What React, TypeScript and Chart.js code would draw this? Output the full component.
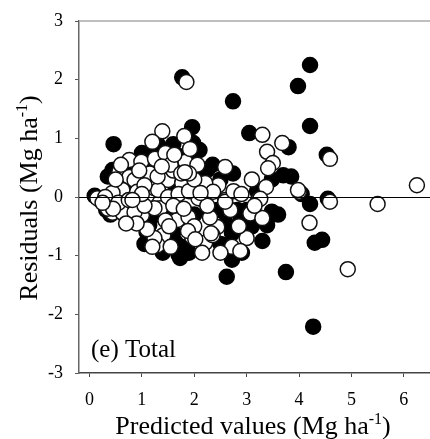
import React, { useEffect, useRef } from "react";
import { Chart, registerables } from "chart.js";

Chart.register(...registerables);

// Filled (black) points: predicted values and residuals
const blackPred = [
  0.1, 0.46, 1.77, 1.96, 1.98, 4.21, 3.98, 2.74, 4.21, 3.05,
  3.8, 4.53, 4.55, 4.21, 4.3, 4.44, 3.75, 4.27, 2.62, 1.73,
  1.7, 2.72, 3.7, 3.48, 2.74, 2.46, 3.0, 3.48, 2.88, 2.82,
  3.39, 2.72, 2.91, 2.27, 2.44, 1.64, 1.45, 2.25, 2.02, 1.0,
  0.44, 0.32, 1.09, 1.14, 1.5, 1.6, 1.7, 1.55, 1.2, 0.9,
  0.7, 0.5, 0.6, 0.8, 1.0, 1.3, 1.6, 1.75, 2.0, 2.1,
  2.3, 2.5, 2.6, 2.5, 1.9, 2.8, 3.1, 3.2, 3.6, 0.55,
  0.35, 0.8, 1.2, 1.15, 1.3, 1.9, 2.1, 2.35, 1.05, 1.4,
  0.2, 0.4, 3.3, 4.05, 3.85, 1.65, 1.55, 1.42,
];
const blackResid = [
  0.02, 0.9, 2.04, 1.19, 0.92, 2.25, 1.89, 1.63, 1.21, 1.09,
  0.85, 0.72, -0.03, -0.12, -0.78, -0.73, -1.28, -2.21, -1.36, -1.04,
  -0.98, -1.07, 0.37, 0.3, 0.4, -0.22, -0.22, -0.25, -0.34, -0.22,
  -0.48, -0.62, -0.95, -0.27, -0.22, -0.77, 0.8, 0.46, 0.34, 0.75,
  0.46, -0.22, -0.6, -0.48, 0.6, 0.9, 0.7, 0.3, 0.25, 0.2,
  0.05, -0.05, -0.25, -0.15, -0.1, -0.3, -0.6, -0.85, -0.3, 0.1,
  0.15, 0.3, -0.45, -0.8, -0.95, -0.55, -0.5, 0.1, -0.3, 0.2,
  0.35, 0.45, 0.55, 0.75, 0.9, 0.7, 0.8, 0.55, -0.8, -0.95,
  -0.05, -0.3, -0.75, 0.05, 0.35, 0.15, -0.2, 0.65,
];

// Open (white) points: predicted values and residuals
const whitePred = [
  0.15, 1.85, 1.81, 1.39, 1.2, 3.3, 3.68, 4.59, 6.25, 5.5, 4.59, 4.0, 4.2, 4.93,
  2.59, 3.39, 3.5, 3.41, 3.37, 2.46, 2.59, 3.22, 2.69, 3.07, 3.3, 3.0, 2.72, 2.88,
  3.26, 1.35, 1.68, 1.89, 2.17, 2.59, 2.44, 1.41, 1.96, 2.21, 2.5, 2.15, 1.3, 0.44,
  0.63, 1.0, 0.86, 1.24, 1.24, 1.2, 0.76, 0.99, 0.57, 0.76, 0.86, 0.63, 0.91, 0.44,
  1.1, 1.24, 1.68, 1.83, 2.06, 1.41, 1.5, 1.77, 2.21, 1.31, 2.08, 2.36, 3.98, 0.3,
  0.55, 0.75, 1.5, 1.7, 1.9, 2.0, 1.6, 1.8, 2.3, 2.0, 1.55, 1.1, 0.9, 1.45, 2.35,
  1.15, 1.05, 0.95, 2.25, 2.75, 2.9, 3.1, 2.85, 3.15, 1.6, 1.25, 0.35, 0.5, 1.45,
  1.9, 2.12, 1.05, 0.7, 1.55, 1.75, 1.3, 1.0, 0.45, 0.25, 0.6, 1.62, 1.92, 0.82,
  1.38, 1.82, 1.52, 1.88, 2.32, 2.02,
];
const whiteResid = [
  -0.02, 1.96, 1.04, 1.12, 0.94, 1.06, 0.92, 0.65, 0.2, -0.12, -0.08, 0.09, -0.44, -1.23,
  0.51, 0.77, 0.58, 0.49, 0.17, 0.2, -0.05, -0.05, -0.22, -0.28, -0.36, -0.7, -0.85, -0.92,
  -0.03, -0.19, -0.39, -0.34, -0.05, -0.08, -0.51, -0.65, -0.68, -0.78, -0.95, -0.95, -0.82, -0.27,
  -0.27, -0.31, -0.26, -0.19, -0.7, -0.85, 0.63, 0.6, 0.43, 0.34, 0.29, 0.12, 0.09, 0.07,
  0.03, 0.15, 0.58, 0.6, 0.55, 0.49, 0.29, 0.24, 0.24, 0.12, -0.02, 0.09, 0.12, 0.0,
  -0.1, -0.05, 0.0, 0.05, 0.1, 0.3, -0.15, -0.2, -0.35, -0.5, -0.85, -0.55, -0.45, -0.4, -0.65,
  0.4, 0.2, 0.45, -0.15, 0.1, 0.05, 0.3, -0.5, -0.15, 0.45, 0.65, -0.2, 0.3, 0.75,
  0.4, 0.07, -0.15, -0.45, 0.55, 0.4, 0.35, 0.05, -0.2, -0.1, 0.55, 0.72, 0.82, -0.05,
  0.52, 0.42, -0.5, -0.58, -0.62, -0.72,
];

const xTicks = [0, 1, 2, 3, 4, 5, 6];
const yTicks = [-3, -2, -1, 0, 1, 2, 3];
const xTitle = "Predicted values (Mg ha";
const yTitle = "Residuals (Mg ha";
const titleSup = "-1";
const panelLabel = "(e) Total";

const SERIF = "'Liberation Serif', 'Times New Roman', serif";

function drawSupTitle(ctx: CanvasRenderingContext2D, main: string) {
  ctx.font = `26px ${SERIF}`;
  const w1 = ctx.measureText(main).width;
  ctx.font = `16px ${SERIF}`;
  const w2 = ctx.measureText(titleSup).width;
  ctx.font = `26px ${SERIF}`;
  const w3 = ctx.measureText(")").width;
  const total = w1 + w2 + w3;
  let x = -total / 2;
  ctx.textAlign = "left";
  ctx.textBaseline = "alphabetic";
  ctx.fillText(main, x, 0);
  x += w1;
  ctx.font = `16px ${SERIF}`;
  ctx.fillText(titleSup, x, -10);
  x += w2;
  ctx.font = `26px ${SERIF}`;
  ctx.fillText(")", x, 0);
}

const decorPlugin = {
  id: "decor",
  afterDatasetsDraw(chart: any) {
    const { ctx, chartArea, scales } = chart;
    const y0 = scales.y.getPixelForValue(0);
    ctx.save();
    ctx.strokeStyle = "#000";
    ctx.lineWidth = 1;
    ctx.beginPath();
    ctx.moveTo(chartArea.left, Math.round(y0) + 0.5);
    ctx.lineTo(chartArea.right, Math.round(y0) + 0.5);
    ctx.stroke();
    ctx.restore();
  },
  afterDraw(chart: any) {
    const { ctx, chartArea } = chart;
    ctx.save();
    ctx.strokeStyle = "#aaa";
    ctx.lineWidth = 1.5;
    ctx.beginPath();
    ctx.moveTo(chartArea.left, chartArea.top);
    ctx.lineTo(chartArea.right, chartArea.top);
    ctx.stroke();

    ctx.fillStyle = "#000";
    ctx.font = `25px ${SERIF}`;
    ctx.textAlign = "left";
    ctx.textBaseline = "alphabetic";
    ctx.fillText(panelLabel, chartArea.left + 12, chartArea.bottom - 16);

    ctx.save();
    ctx.translate(253, 434);
    drawSupTitle(ctx, xTitle);
    ctx.restore();

    ctx.save();
    ctx.translate(37, 198);
    ctx.rotate(-Math.PI / 2);
    drawSupTitle(ctx, yTitle);
    ctx.restore();
    ctx.restore();
  },
};

export default function App() {
  const ref = useRef<HTMLCanvasElement>(null);

  useEffect(() => {
    document.body.style.margin = "0";
    const canvas = ref.current;
    if (!canvas) return;
    const toPts = (xs: number[], ys: number[]) => xs.map((x, i) => ({ x, y: ys[i] }));
    const chart = new Chart(canvas, {
      type: "scatter",
      data: {
        datasets: [
          {
            data: toPts(blackPred, blackResid),
            backgroundColor: "#000",
            borderColor: "#000",
            borderWidth: 1.5,
            pointRadius: 7.5,
            order: 2,
          },
          {
            data: toPts(whitePred, whiteResid),
            backgroundColor: "#fff",
            borderColor: "#111",
            borderWidth: 1.5,
            pointRadius: 7.5,
            order: 1,
          },
        ],
      },
      options: {
        responsive: false,
        animation: false,
        devicePixelRatio: 1,
        layout: { autoPadding: false, padding: { top: 21, right: 0, left: 0, bottom: 0 } },
        plugins: { legend: { display: false }, tooltip: { enabled: false } },
        scales: {
          x: {
            type: "linear",
            min: -0.2,
            max: 6.5,
            afterBuildTicks: (s: any) => {
              s.ticks = xTicks.map((v) => ({ value: v }));
            },
            afterFit: (s: any) => {
              s.height = 66;
              s.paddingLeft = 0;
              s.paddingRight = 0;
            },
            grid: { display: true, drawOnChartArea: false, drawTicks: true, tickLength: 4, color: "#444" },
            border: { display: true, color: "#444", width: 1.5 },
            ticks: {
              color: "#000",
              font: { family: SERIF, size: 18 },
              padding: 12,
              maxRotation: 0,
              autoSkip: false,
            },
          },
          y: {
            type: "linear",
            min: -3,
            max: 3,
            afterBuildTicks: (s: any) => {
              s.ticks = yTicks.map((v) => ({ value: v }));
            },
            afterFit: (s: any) => {
              s.width = 79;
              s.paddingTop = 0;
              s.paddingBottom = 0;
            },
            grid: { display: true, drawOnChartArea: false, drawTicks: true, tickLength: 4, color: "#555" },
            border: { display: true, color: "#666", width: 1.5 },
            ticks: {
              color: "#000",
              font: { family: SERIF, size: 18 },
              padding: 12,
              autoSkip: false,
            },
          },
        },
      },
      plugins: [decorPlugin],
    });
    return () => chart.destroy();
  }, []);

  return <canvas ref={ref} width={430} height={439} style={{ display: "block" }} />;
}
